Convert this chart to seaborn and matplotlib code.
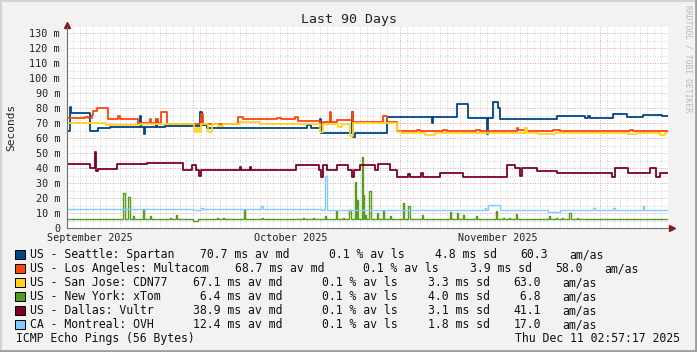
import matplotlib
matplotlib.use('Agg')
import matplotlib.pyplot as plt
from matplotlib.patches import Rectangle
from matplotlib.lines import Line2D
import pandas as pd
import seaborn as sns

# --- Chart data (x = days since Sep 12 2025 02:57, y = milliseconds) ---
hosts = ['US - Seattle: Spartan', 'US - Los Angeles: Multacom', 'US - San Jose: CDN77',
         'US - New York: xTom', 'US - Dallas: Vultr', 'CA - Montreal: OVH']
colors = ['#004586', '#ff420e', '#ffd320', '#579d1c', '#7e0021', '#83caff']

seattle_days = [0, 0.45, 0.6, 3.44, 4.64, 6.44, 10.93, 11.08, 11.53, 11.68, 13.4, 13.55, 14.67,
                19.92, 20.17, 20.96, 35.94, 36.5, 37.89, 38.04, 42.63, 42.83, 43.13, 47.87,
                54.61, 54.81, 58.36, 60.09, 62.94, 63.09, 63.75, 64.59, 64.9, 73.37, 77.57,
                78.0, 78.3, 81.72, 83.82, 86.25, 89.05, 90]
seattle_ms = [65, 81, 76.4, 64.7, 66.4, 67.6, 75, 67.3, 63, 67.3, 72.5, 67.3, 68.2,
              77.5, 68.5, 66.7, 68.7, 66.7, 73, 63.2, 77.5, 61, 63.1, 74.2,
              69.7, 74.2, 82.4, 73.1, 62.5, 73.1, 83.8, 80.2, 72.7, 74.9, 73.4,
              74.9, 73.4, 76.2, 74.2, 75.6, 74.6, 74.6]

la_days = [0, 2.7, 3.2, 3.7, 3.9, 4.54, 6.18, 7.7, 8.0, 10.68, 12.4, 12.6, 13.4, 13.6, 14.08,
           14.93, 20.07, 20.3, 25.65, 26.4, 31.4, 32.1, 34.14, 34.59, 37.89, 38.33, 39.38,
           39.6, 40.4, 42.63, 42.83, 47.32, 47.87, 49.37, 52.4, 52.9, 56.3, 56.9, 61.3, 61.8,
           67.34, 67.5, 68.8, 72.8, 73.8, 84.3, 84.8, 90]
la_ms = [73.1, 74, 73.1, 75.5, 78, 79.8, 72.7, 75, 72.7, 69.8, 72.7, 69.8, 72.7, 69.8, 77.1,
         69.3, 76, 69.6, 74.2, 72.7, 73.5, 72.5, 74.2, 71.6, 69, 71, 77.1,
         71, 72, 77.5, 70.4, 74.9, 70.4, 64.7, 65.5, 64.7, 65.5, 64.7, 65.5, 64.7,
         67, 65.5, 64.7, 65.5, 64.7, 65.5, 64.7, 64.7]

sanjose_days = [0, 5.9, 10.93, 19.0, 19.17, 19.5, 19.77, 20.07, 21.11, 21.71, 22.6, 23.4,
                25.91, 28.9, 37.89, 38.33, 40.6, 41.2, 42.38, 42.83, 49.37, 50.0, 53.6, 55.1,
                68.6, 68.9, 70.5, 73.1, 84.0, 85.4, 88.8, 89.6, 90]
sanjose_ms = [69.8, 68.7, 69.3, 66, 64.2, 67, 64.2, 69.1, 64.2, 69.1, 67.8, 69.1,
              71, 69.3, 63.8, 69.3, 67.6, 69.3, 61.6, 69.8, 63.8, 63.6, 62, 63.6,
              66.4, 63.6, 62.4, 63.6, 62.4, 63.6, 62.2, 63.6, 63.6]

# New York: flat baseline with short bursts (start day, value, duration in days)
newyork_base = 5.8
newyork_events = [(8.43, 23.5, 0.2), (9.18, 21, 0.3), (9.93, 8, 0.15), (11.38, 13, 0.2),
                  (12.43, 8, 0.15), (15.4, 7, 0.15), (16.32, 9, 0.2), (18.9, 4.6, 0.7),
                  (22.4, 7, 0.15), (23.3, 7, 0.15), (26.5, 12, 0.2), (29.16, 7, 0.15),
                  (35.4, 7, 0.15), (36.9, 7, 0.15), (38.6, 8, 0.15), (40.28, 11.3, 0.2),
                  (41.3, 7, 0.15), (42.27, 12, 0.2), (43.13, 31, 0.2), (43.45, 19, 0.2),
                  (44.13, 47.5, 0.15), (44.35, 22, 0.2), (44.7, 9, 0.15), (45.27, 25, 0.2),
                  (46.38, 10, 0.15), (47.3, 12, 0.2), (48.37, 8, 0.15), (50.27, 16.6, 0.2),
                  (51.1, 15, 0.2), (53.1, 9, 0.2), (57.35, 11, 0.2), (58.36, 10, 0.15),
                  (59.3, 9, 0.15), (61.25, 8, 0.15), (64.25, 11.3, 0.2), (65.25, 7, 0.15),
                  (66.23, 7, 0.15), (67.24, 9.3, 0.2), (72.2, 8, 0.15), (73.3, 7, 0.15),
                  (74.07, 7, 0.15), (75.2, 10, 0.2), (76.3, 7, 0.15)]

dallas_days = [0, 3.44, 4.19, 4.34, 4.64, 7.49, 11.98, 17.37, 18.72, 19.32, 19.77, 20.07,
               25.9, 26.1, 27.4, 27.6, 34.29, 37.74, 38.04, 38.33, 38.93, 40.43, 42.08, 42.63,
               42.93, 43.87, 46.12, 46.57, 48.37, 49.42, 51.06, 51.3, 53.0, 53.3, 55.85, 59.3,
               65.84, 67.09, 67.83, 68.13, 68.58, 70.38, 73.37, 81.57, 82.07, 84.01, 87.3,
               88.2, 88.8, 90]
dallas_ms = [42.5, 39.8, 51, 38, 39.3, 42.5, 43.5, 39, 42, 39, 35, 39,
             41, 39, 41, 39, 42, 39, 34, 42, 39, 42, 39, 34,
             39, 42, 39, 42.7, 39, 34.2, 36, 34.2, 37, 34.2, 36.4, 34.2,
             42, 39.8, 34.5, 39.8, 40.2, 38, 37, 34.2, 39.8, 36.4, 39.8,
             34.2, 36.4, 36.4]

montreal_days = [0, 18.9, 20.0, 20.3, 29.1, 29.3, 38.0, 38.5, 38.65, 38.95, 62.6, 62.8, 63.1,
                 64.8, 72.0, 73.8, 78.8, 79.0, 81.8, 82.0, 86.2, 86.4, 90]
montreal_ms = [12.5, 12, 13.5, 12.5, 15, 12.5, 11.7, 13, 34.7, 11.7, 13.5, 11.7, 15.3,
               11.7, 11, 11.7, 13.5, 11.7, 13.5, 11.7, 15, 11.7, 11.7]

# Legend statistics
median_ms = [70.7, 68.7, 67.1, 6.4, 38.9, 12.4]
loss_pct = [0.1, 0.1, 0.1, 0.1, 0.1, 0.1]
sd_ms = [4.8, 3.9, 3.3, 4.0, 3.1, 1.8]
am_as = [60.3, 58.0, 63.0, 6.8, 41.1, 17.0]

month_names = ['September 2025', 'October 2025', 'November 2025']
start = pd.Timestamp('2025-09-12 02:57:17')
month_starts = [pd.Timestamp('2025-10-01'), pd.Timestamp('2025-11-01'), pd.Timestamp('2025-12-01')]
month_mids = [pd.Timestamp('2025-09-15 14:00'), pd.Timestamp('2025-10-15 14:00'),
              pd.Timestamp('2025-11-15 14:00')]


def to_day(ts):
    return (ts - start) / pd.Timedelta(days=1)


# --- Build long table ---
ny_days, ny_ms = [0], [newyork_base]
for d, v, w in newyork_events:
    ny_days += [d, d + w]
    ny_ms += [v, newyork_base]
ny_days.append(90)
ny_ms.append(newyork_base)

series = [(seattle_days, seattle_ms), (la_days, la_ms), (sanjose_days, sanjose_ms),
          (ny_days, ny_ms), (dallas_days, dallas_ms), (montreal_days, montreal_ms)]
frames = []
for host, (d, v) in zip(hosts, series):
    frames.append(pd.DataFrame({'day': d, 'ms': v, 'host': host}))
df = pd.concat(frames, ignore_index=True)

# --- Figure ---
sns.set_theme(style='white')
plt.rcParams['font.family'] = ['DejaVu Sans Mono']

W, H = 697, 352
BG = '#f2f2f2'
fig = plt.figure(figsize=(W / 100, H / 100), dpi=100, facecolor=BG)
ax = fig.add_axes([67 / W, 1 - 228 / H, 601 / W, 201 / H])
ax.set_facecolor('white')


def px(x, y):
    return x / W, 1 - y / H


sns.lineplot(data=df, x='day', y='ms', hue='host', hue_order=hosts, palette=colors,
             estimator=None, sort=False, drawstyle='steps-post', linewidth=1.3,
             legend=False, ax=ax)
# the low-latency hosts are drawn a bit thinner
for ln in ax.lines[3:4] + ax.lines[5:6]:
    ln.set_linewidth(1.0)

ax.set_xlim(0, 90)
ax.set_ylim(0, 134)

# grid
day_ticks = [to_day(t) for t in pd.date_range('2025-09-13', '2025-12-10', freq='D')
             if t.day != 1]
ax.set_xticks([to_day(t) for t in month_starts])
ax.set_xticks(day_ticks, minor=True)
ax.set_yticks(range(0, 131, 10))
ax.set_yticks(range(5, 134, 10), minor=True)
ax.set_xticklabels([])
ax.set_yticklabels(['0'] + [f'{v} m' for v in range(10, 131, 10)])
ax.grid(which='major', color='#f2a6a6', linestyle=(0, (1, 1.5)), linewidth=0.72)
ax.grid(which='minor', color='#d6d6d6', linestyle=(0, (1, 1.5)), linewidth=0.72)
ax.set_axisbelow(True)
ax.set_xlabel('')
ax.set_ylabel('')

for s in ['top', 'right']:
    ax.spines[s].set_visible(False)
for s in ['left', 'bottom']:
    ax.spines[s].set_color('#707070')
    ax.spines[s].set_linewidth(0.8)

ax.tick_params(axis='y', which='major', direction='out', length=2.5, width=0.7,
               color='#707070', pad=2.5, labelsize=7.3, labelcolor='#222222')
ax.tick_params(axis='y', which='minor', length=0)
ax.tick_params(axis='x', which='both', direction='out', length=2, width=0.7, color='#707070')

# axis arrows
ax.plot([0], [1.01], marker='^', ms=4.5, color='#8b1a1a', transform=ax.transAxes,
        clip_on=False)
ax.plot([1.006], [0], marker='>', ms=4.5, color='#8b1a1a', transform=ax.transAxes,
        clip_on=False)

# month labels
for name, mid in zip(month_names, month_mids):
    ax.text(to_day(mid), -0.05, name, transform=ax.get_xaxis_transform(),
            ha='center', va='center', fontsize=7.3, color='#222222')

# titles
fig.text(*px(349, 19), 'Last 90 Days', ha='center', va='center', fontsize=9.5, color='#222222')
fig.text(*px(11, 127), 'Seconds', ha='center', va='center', rotation=90, fontsize=8,
         color='#222222')
fig.text(*px(688, 5), 'RRDTOOL / TOBI OETIKER', ha='center', va='top', rotation=270,
         fontsize=5.8, color='#b8b8b8')

# legend rows
CH = 6.95
for i, host in enumerate(hosts):
    y = 254.5 + 14 * i
    shift = max(0, len(host) - 20) * CH
    fig.add_artist(Rectangle(px(15, y + 4.5), 9.5 / W, 9.5 / H, transform=fig.transFigure,
                             facecolor=colors[i], edgecolor='black', linewidth=0.7))
    parts = [(30, host),
             (193.3 + shift, f'{median_ms[i]:4.1f} ms av md'),
             (321.7 + shift, f'{loss_pct[i]:.1f} % av ls'),
             (428.3 + shift, f'{sd_ms[i]:.1f} ms sd'),
             (513.3 + shift, f'{am_as[i]:4.1f}'),
             (562.7 + shift, 'am/as')]
    for x, txt in parts:
        fig.text(*px(x, y), txt, ha='left', va='center', fontsize=8.3, color='#111111')

fig.text(*px(16.5, 338.5), 'ICMP Echo Pings (56 Bytes)', ha='left', va='center',
         fontsize=8.3, color='#111111')
fig.text(*px(680, 338.5), 'Thu Dec 11 02:57:17 2025', ha='right', va='center',
         fontsize=8.3, color='#111111')

# image frame (light top/left, dark bottom/right)
fig.add_artist(Line2D([0, 1], [1 - 1 / H, 1 - 1 / H], transform=fig.transFigure,
                      color='#d4d4d4', lw=1.5))
fig.add_artist(Line2D([1 / W, 1 / W], [0, 1], transform=fig.transFigure,
                      color='#d4d4d4', lw=1.5))
fig.add_artist(Line2D([0, 1], [1.5 / H, 1.5 / H], transform=fig.transFigure,
                      color='#9e9e9e', lw=2))
fig.add_artist(Line2D([1 - 1.5 / W, 1 - 1.5 / W], [0, 1], transform=fig.transFigure,
                      color='#9e9e9e', lw=2))

fig.savefig('out.png', dpi=100, facecolor=BG)
plt.close(fig)
